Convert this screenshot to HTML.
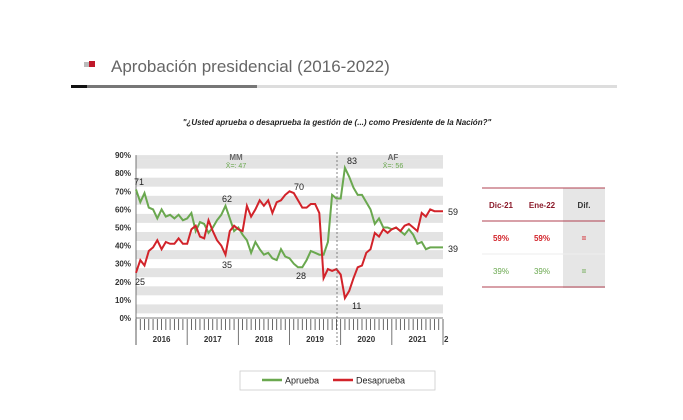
<!DOCTYPE html><html><head><meta charset="utf-8"><style>
body{margin:0;width:683px;height:420px;background:#fff;font-family:"Liberation Sans",sans-serif;position:relative;overflow:hidden}
</style></head><body>
<svg id="s" width="683" height="420" style="position:absolute;left:0;top:0" font-family="Liberation Sans, sans-serif">
<rect x="84" y="62" width="5" height="5" fill="#bbb"/><rect x="89" y="61" width="6" height="6" fill="#c0182a"/>
<text x="111" y="72" font-size="17" fill="#666">Aprobación presidencial (2016-2022)</text>
<rect x="71" y="85" width="16" height="3" fill="#111"/><rect x="87" y="85" width="170" height="3" fill="#777"/><rect x="257" y="85" width="360" height="3" fill="#ddd"/>
<text x="337" y="125" font-size="8" font-style="italic" font-weight="bold" fill="#222" text-anchor="middle">"¿Usted aprueba o desaprueba la gestión de (...) como Presidente de la Nación?"</text>
<g id="g"></g>
<line x1="337" y1="152" x2="337" y2="345" stroke="#666" stroke-dasharray="2,2" stroke-width="0.8"/>
<text x="236" y="160" font-size="8" font-weight="bold" fill="#666" text-anchor="middle">MM</text>
<text x="236" y="168" font-size="7" fill="#6aa84f" text-anchor="middle">X̄=: 47</text>
<text x="393" y="160" font-size="8" font-weight="bold" fill="#666" text-anchor="middle">AF</text>
<text x="393" y="168" font-size="7" fill="#6aa84f" text-anchor="middle">X̄=: 56</text>
<g font-size="9" fill="#222">
<text x="134" y="185">71</text><text x="135" y="285">25</text><text x="222" y="202">62</text><text x="222" y="268">35</text>
<text x="294" y="190">70</text><text x="296" y="279">28</text><text x="347" y="164">83</text><text x="352" y="309">11</text>
<text x="448" y="215">59</text><text x="448" y="252">39</text></g>
<rect x="240" y="371" width="195" height="19" fill="#fff" stroke="#ccc" stroke-width="0.8"/>
<line x1="262" y1="380" x2="282" y2="380" stroke="#6aa84f" stroke-width="2.5"/><text x="285" y="383.5" font-size="9" fill="#222">Aprueba</text>
<line x1="333" y1="380" x2="353" y2="380" stroke="#d2232a" stroke-width="2.5"/><text x="356" y="383.5" font-size="9" fill="#222">Desaprueba</text>
<rect x="563" y="188" width="42" height="100" fill="#e6e6e6"/>
<line x1="482" y1="188" x2="605" y2="188" stroke="#b04050" stroke-width="1"/>
<line x1="482" y1="221" x2="605" y2="221" stroke="#b04050" stroke-width="1"/>
<line x1="482" y1="254" x2="605" y2="254" stroke="#eee" stroke-width="1"/>
<line x1="482" y1="287" x2="605" y2="287" stroke="#b04050" stroke-width="1"/>
<g font-size="8" font-weight="bold" text-anchor="middle">
<text x="501" y="208" fill="#8b1a2a">Dic-21</text><text x="542" y="208" fill="#8b1a2a">Ene-22</text><text x="584" y="208" fill="#333">Dif.</text>
<text x="501" y="241" fill="#d2232a">59%</text><text x="542" y="241" fill="#d2232a">59%</text><text x="584" y="241" fill="#d2232a">=</text>
<text x="501" y="274" fill="#6aa84f" font-weight="normal">39%</text><text x="542" y="274" fill="#6aa84f" font-weight="normal">39%</text><text x="584" y="274" fill="#6aa84f">=</text>
</g>
</svg>
<script>
var g=document.getElementById('g'),h='';
function y(v){return 318-1.81*v}
var x0=136,x1=443;
h+='<rect x="'+x0+'" y="'+y(90)+'" width="'+(x1-x0)+'" height="4.5" fill="#e3e3e3"/>';
for(var v=0;v<90;v+=10){h+='<rect x="'+x0+'" y="'+(y(v+10)+4.5)+'" width="'+(x1-x0)+'" height="9" fill="#e3e3e3"/>';}
for(var v=0;v<=90;v+=10)h+='<text x="131" y="'+(y(v)+3)+'" font-size="8" font-weight="bold" fill="#333" text-anchor="end">'+v+'%</text>';
h+='<line x1="'+x0+'" y1="'+y(90)+'" x2="'+x0+'" y2="345" stroke="#555" stroke-width="0.8"/>';
h+='<line x1="'+x0+'" y1="318" x2="'+x1+'" y2="318" stroke="#555" stroke-width="0.8"/>';
var dx=(x1-x0)/72;
for(var i=0;i<=72;i++){var xx=x0+i*dx;h+='<line x1="'+xx+'" y1="319" x2="'+xx+'" y2="330" stroke="#444" stroke-width="0.8"/>';}
var yrs=['2016','2017','2018','2019','2020','2021'];
for(var k=0;k<6;k++){var a=x0+k*12*dx;h+='<line x1="'+a+'" y1="330" x2="'+a+'" y2="345" stroke="#555" stroke-width="0.8"/><text x="'+(a+6*dx)+'" y="342" font-size="8" font-weight="bold" fill="#333" text-anchor="middle">'+yrs[k]+'</text>';}
h+='<line x1="'+(x0+72*dx)+'" y1="330" x2="'+(x0+72*dx)+'" y2="345" stroke="#555" stroke-width="0.8"/><text x="444" y="342" font-size="8" font-weight="bold" fill="#333">2</text>';
var A=[71,64,69,61,60,55,60,56,57,55,57,54,55,58,48,53,52,47,50,54,57,62,55,48,50,46,43,36,42,38,35,36,33,32,38,34,33,30,28,28,32,37,36,35,35,42,68,66,66,83,78,72,68,68,64,60,52,55,50,50,49,50,48,46,49,46,41,42,38,39,39,39,39];
var D=[25,32,29,37,39,43,38,42,41,41,44,41,41,49,51,45,44,54,48,43,40,35,48,51,49,48,62,56,60,65,62,65,58,64,65,68,70,69,65,61,61,63,63,58,22,27,26,27,24,11,15,22,28,29,36,38,47,45,49,47,49,50,48,51,52,50,48,58,56,60,59,59,59];
function pl(d,c){return '<polyline fill="none" stroke="'+c+'" stroke-width="2" points="'+d.map(function(v,i){return (x0+i*dx).toFixed(1)+','+y(v).toFixed(1)}).join(' ')+'"/>'}
h+=pl(A,'#6aa84f')+pl(D,'#d2232a');
g.innerHTML=h;
</script>
</body></html>
